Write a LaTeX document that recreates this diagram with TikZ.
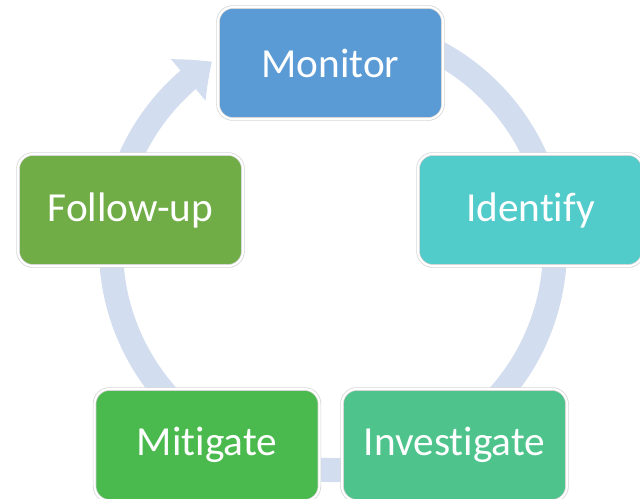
\documentclass[tikz,border=0pt]{standalone}
\usepackage{fontspec}
\setmainfont{Carlito}[Ligatures=NoCommon]
\usetikzlibrary{arrows.meta,bending}
\definecolor{ringblue}{RGB}{210,221,239}
\definecolor{monblue}{RGB}{91,155,213}
\definecolor{idteal}{RGB}{82,203,203}
\definecolor{invgreen}{RGB}{78,196,140}
\definecolor{mitgreen}{RGB}{75,186,78}
\definecolor{folgreen}{RGB}{112,173,71}
\begin{document}
\begin{tikzpicture}[x=0.02cm,y=0.02cm,
  stage/.style={rounded corners=0.3cm, draw=gray!35, double=white,
    double distance=1.2pt, line width=0.4pt, minimum width=4.5cm,
    minimum height=2.24cm, text=white, font=\fontsize{23.5}{28}\selectfont}]
  \useasboundingbox (0,0) rectangle (640,498);
  \clip (0,0) rectangle (640,498);
  \coordinate (c) at (333,250);
  \draw[ringblue, line width=0.48cm, -{Triangle[width=1.04cm,length=0.6cm,bend]}]
    ([shift={(75:222)}]c) arc[start angle=75, end angle=-237, radius=222];
  \node[stage, fill=monblue] (mon) at (330.5,435) {Monitor};
  \node[stage, fill=idteal] (ident) at (530.5,288) {Identify};
  \node[stage, fill=invgreen] (inv) at (454.5,53) {Investigate};
  \node[stage, fill=mitgreen] (mit) at (207,53) {Mitigate};
  \node[stage, fill=folgreen] (fol) at (130.5,288) {Follow-up};
\end{tikzpicture}
\end{document}
